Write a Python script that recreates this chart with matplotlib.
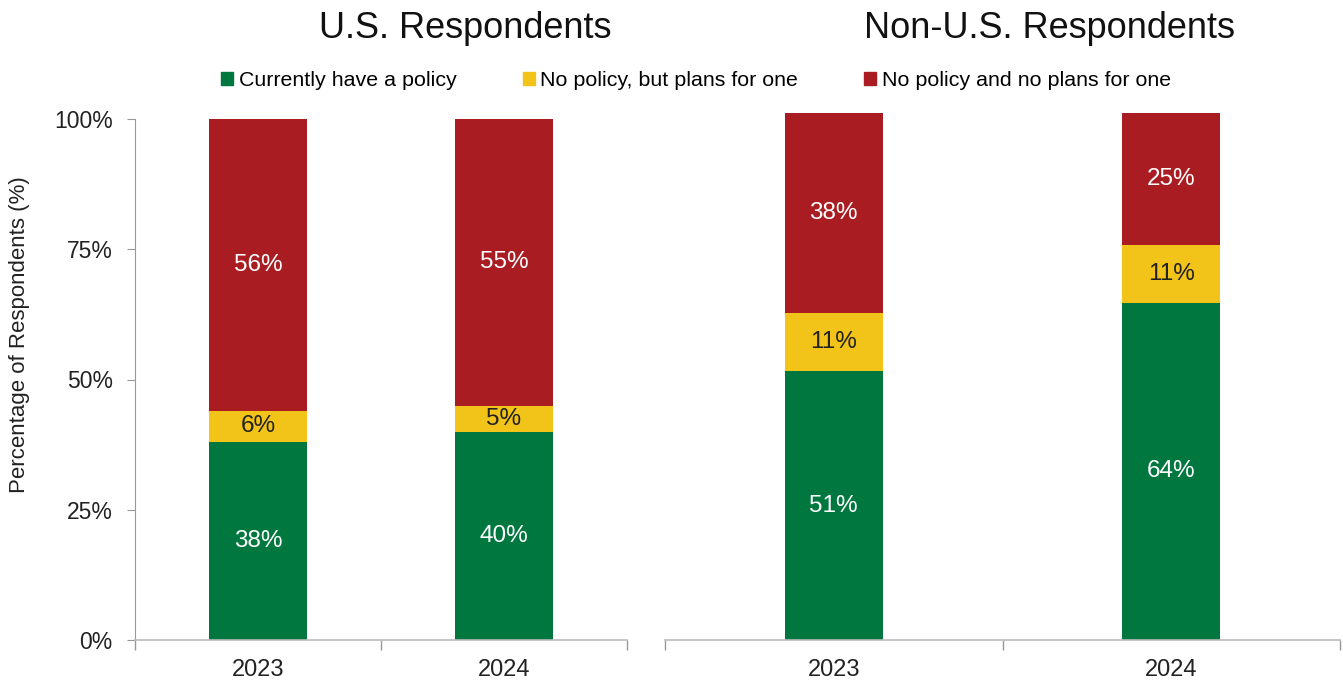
import matplotlib
matplotlib.use("Agg")
import matplotlib.pyplot as plt
from matplotlib.patches import Rectangle

years = ["2023", "2024"]
series_names = ["Currently have a policy", "No policy, but plans for one", "No policy and no plans for one"]
us_have = [38, 40]
us_plan = [6, 5]
us_none = [56, 55]
nonus_have = [51, 64]
nonus_plan = [11, 11]
nonus_none = [38, 25]
colors = ["#00773F", "#F2C318", "#A91D22"]
label_colors = ["white", "#222222", "white"]
yticks = [0, 25, 50, 75, 100]

plt.rcParams['font.family'] = ['Liberation Sans', 'DejaVu Sans']
W, H = 1343, 690
fig = plt.figure(figsize=(W / 100, H / 100), dpi=100)

def px(x0, y_top, x1, y_bot):
    return [x0 / W, 1 - y_bot / H, (x1 - x0) / W, (y_bot - y_top) / H]

ax1 = fig.add_axes(px(135, 119, 627, 640))
ax2 = fig.add_axes(px(665, 113, 1340, 640))

def draw(ax, have, plan, none, width):
    xs = list(range(len(years)))
    bottom = [0] * len(years)
    for vals, c, lc in zip([have, plan, none], colors, label_colors):
        ax.bar(xs, vals, width, bottom=bottom, color=c, edgecolor='none')
        for x, b, v in zip(xs, bottom, vals):
            ax.text(x, b + v / 2, f"{v}%", ha='center', va='center', color=lc, fontsize=17.5)
        bottom = [b + v for b, v in zip(bottom, vals)]
    ax.set_xlim(-0.5, 1.5)
    ax.set_ylim(0, 100)
    ax.set_xticks(xs)
    ax.set_xticklabels(years, fontsize=17, color='#222222')
    ax.tick_params(axis='x', which='major', length=0, pad=14)
    ax.set_xticks([-0.5, 0.5, 1.5], minor=True)
    ax.tick_params(axis='x', which='minor', length=7, color='#999999', width=1, direction='out')
    for s in ['top', 'right']:
        ax.spines[s].set_visible(False)
    ax.spines['bottom'].set_color('#bbbbbb')
    ax.spines['bottom'].set_linewidth(1.2)

draw(ax1, us_have, us_plan, us_none, 0.4)
draw(ax2, nonus_have, nonus_plan, nonus_none, 0.29)

ax1.set_yticks(yticks)
ax1.set_yticklabels([f"{t}%" for t in yticks], fontsize=16.5, color='#222222')
ax1.tick_params(axis='y', length=6, color='#999999', pad=10)
ax1.spines['left'].set_color('#999999')
fig.text(20 / W, 1 - 335 / H, "Percentage of Respondents (%)", rotation=90, ha='center', va='center',
         fontsize=16, color='#222222')

ax2.spines['left'].set_visible(False)
ax2.set_yticks([])

fig.text(465 / W, 1 - 28 / H, "U.S. Respondents", ha='center', va='center', fontsize=26, color='#111111')
fig.text(1050 / W, 1 - 28 / H, "Non-U.S. Respondents", ha='center', va='center', fontsize=26, color='#111111')

handles = [Rectangle((0, 0), 1, 1, color=c) for c in colors]
fig.legend(handles, series_names, loc='center', bbox_to_anchor=(696 / W, 1 - 81 / H), ncol=3,
           frameon=False, fontsize=15.4, handlelength=0.56, handleheight=0.56, handletextpad=0.25,
           columnspacing=3.1)

fig.savefig("out.png", dpi=100)
